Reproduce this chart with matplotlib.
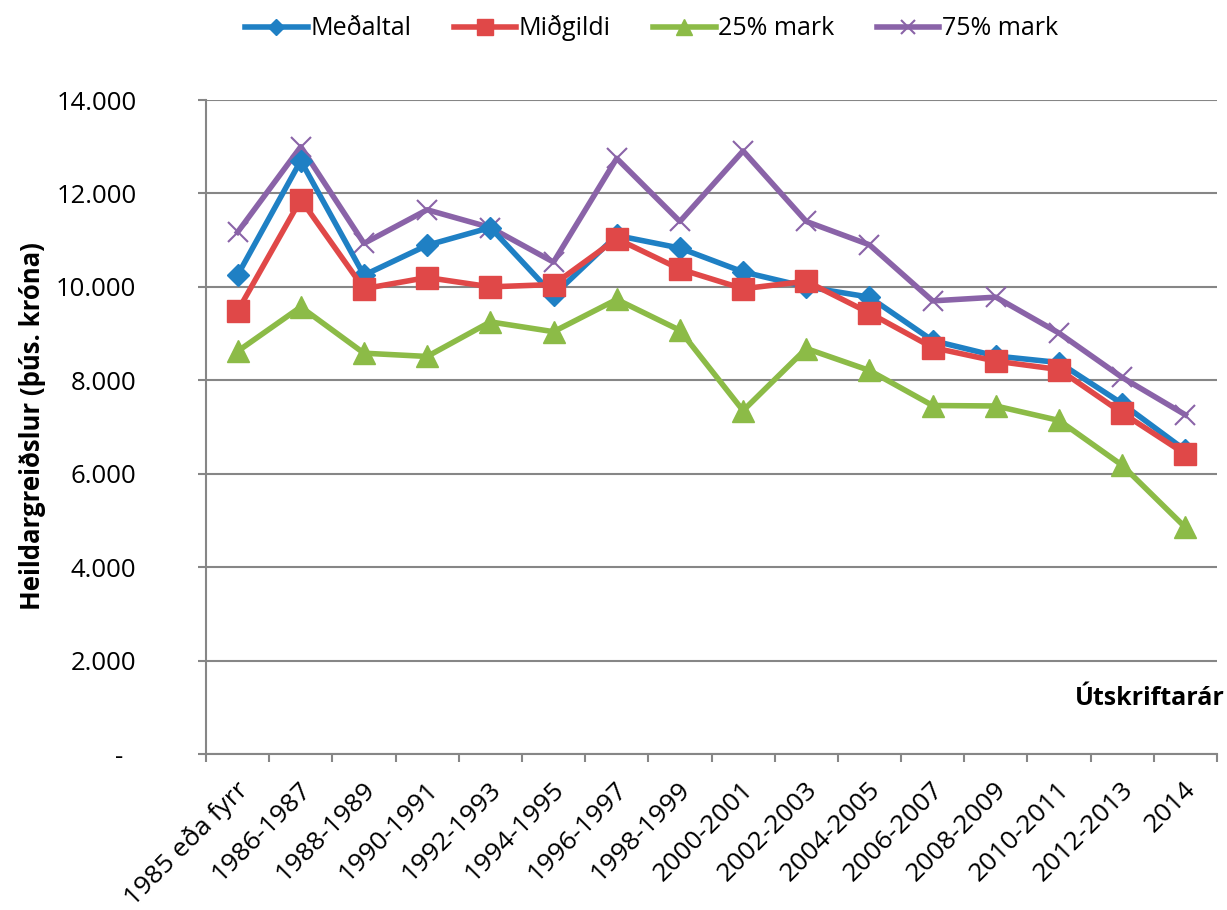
import matplotlib
matplotlib.use("Agg")
import matplotlib.pyplot as plt
import matplotlib.transforms as mtransforms
from matplotlib.ticker import FuncFormatter, FixedLocator

plt.rcParams['font.family'] = ['Open Sans', 'DejaVu Sans']

categories = ["1985 eða fyrr", "1986-1987", "1988-1989", "1990-1991", "1992-1993",
              "1994-1995", "1996-1997", "1998-1999", "2000-2001", "2002-2003",
              "2004-2005", "2006-2007", "2008-2009", "2010-2011", "2012-2013", "2014"]

medaltal = [10250, 12700, 10250, 10890, 11270, 9820, 11100, 10830, 10320, 10000,
            9780, 8850, 8520, 8380, 7500, 6500]
midgildi = [9480, 11870, 9960, 10200, 10000, 10050, 11030, 10380, 9960, 10120,
            9440, 8700, 8410, 8230, 7300, 6420]
mark25 = [8620, 9570, 8580, 8510, 9250, 9040, 9730, 9070, 7350, 8680,
          8210, 7460, 7450, 7140, 6180, 4850]
mark75 = [11170, 13000, 10930, 11650, 11270, 10530, 12750, 11400, 12910, 11400,
          10900, 9700, 9780, 9010, 8060, 7260]

series_names = ["Meðaltal", "Miðgildi", "25% mark", "75% mark"]
yticks = [0, 2000, 4000, 6000, 8000, 10000, 12000, 14000]

fig = plt.figure(figsize=(12.27, 9.10), dpi=100)
ax = fig.add_axes([206/1227, 1-754/910, (1217-206)/1227, (754-100)/910])

x = list(range(len(categories)))
grid_c = '#868686'
lw = 4.0

ax.plot(x, mark25, color='#8CBB47', lw=lw, marker='^', ms=16, mec='#8CBB47', mfc='#8CBB47', label=series_names[2], zorder=3)
ax.plot(x, midgildi, color='#E04848', lw=lw, marker='s', ms=15.5, mec='#E04848', mfc='#E04848', label=series_names[1], zorder=4)
ax.plot(x, medaltal, color='#1F80C4', lw=lw, marker='D', ms=11.5, mec='#1F80C4', mfc='#1F80C4', label=series_names[0], zorder=3.5)
ax.plot(x, mark75, color='#8A63A8', lw=lw, marker='x', ms=14.5, mew=1.5, mec='#8A63A8', label=series_names[3], zorder=3)

ax.set_xlim(-0.5, len(categories) - 0.5)
ax.set_ylim(0, 14000)
ax.set_yticks(yticks)
ax.yaxis.set_major_formatter(FuncFormatter(lambda v, p: '-  ' if v == 0 else f"{int(v):,}".replace(',', '.')))
ax.grid(axis='y', color=grid_c, lw=1.5)
ax.set_axisbelow(True)

for s in ['top', 'right']:
    ax.spines[s].set_visible(False)
for s in ['left', 'bottom']:
    ax.spines[s].set_color(grid_c)
    ax.spines[s].set_linewidth(1.5)

ax.set_xticks(x)
ax.set_xticklabels(categories, rotation=45, ha='right', va='center', rotation_mode='anchor', fontsize=19)
ax.tick_params(axis='x', which='major', length=0, pad=23)
offset = mtransforms.ScaledTranslation(7/100, 0, fig.dpi_scale_trans)
for lab in ax.get_xticklabels():
    lab.set_transform(lab.get_transform() + offset)
ax.xaxis.set_minor_locator(FixedLocator([i - 0.5 for i in range(len(categories) + 1)]))
ax.tick_params(axis='x', which='minor', length=6, width=1.5, color=grid_c)
ax.tick_params(axis='y', length=6, width=1.5, color=grid_c, labelsize=18.5, pad=44)

ax.set_ylabel("Heildargreiðslur (þús. króna)", fontsize=18.5, fontweight='bold')
ax.yaxis.set_label_coords(-0.158, 0.502)
ax.text(1.008, 0.0856, "Útskriftarár", transform=ax.transAxes, ha='right', va='center',
        fontsize=18, fontweight='bold')

handles, labels = ax.get_legend_handles_labels()
h_sorted = [handles[labels.index(n)] for n in series_names]
fig.legend(h_sorted, series_names, loc='center', bbox_to_anchor=(0.531, 0.969), ncol=4,
           frameon=False, fontsize=18, handlelength=2.5, handletextpad=0.1, columnspacing=1.7,
           markerscale=0.7)

fig.savefig("out.png", dpi=100)
